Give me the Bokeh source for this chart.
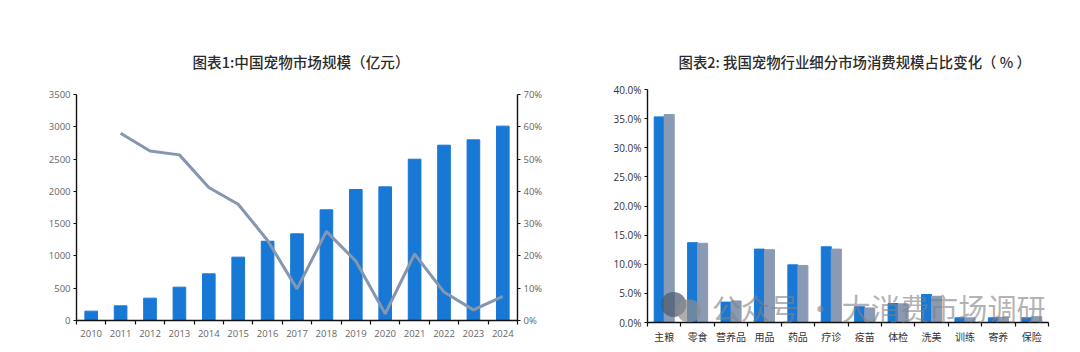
from bokeh.embed import file_html
from bokeh.resources import INLINE
from bokeh.layouts import row, column
from bokeh.models import (Range1d, LinearAxis, FixedTicker, NumeralTickFormatter, Label,
                          BoxAnnotation, ColumnDataSource, Title)
from bokeh.plotting import figure

years = ["2010", "2011", "2012", "2013", "2014", "2015", "2016", "2017", "2018", "2019", "2020", "2021", "2022", "2023", "2024"]
market = [145, 227, 346, 516, 723, 981, 1228, 1342, 1714, 2029, 2070, 2498, 2715, 2798, 3010]
growth = [None, 0.580, 0.525, 0.513, 0.412, 0.360, 0.248, 0.098, 0.276, 0.184, 0.021, 0.206, 0.088, 0.033, 0.075]
categories = ["主粮", "零食", "营养品", "用品", "药品", "疗诊", "疫苗", "体检", "洗美", "训练", "寄养", "保险"]
share_a = [0.353, 0.137, 0.035, 0.126, 0.099, 0.130, 0.027, 0.0325, 0.048, 0.008, 0.008, 0.008]
share_b = [0.357, 0.136, 0.037, 0.125, 0.098, 0.126, 0.025, 0.032, 0.045, 0.008, 0.009, 0.010]
title1 = "图表1:中国宠物市场规模（亿元）"
title2 = "图表2: 我国宠物行业细分市场消费规模占比变化（ % ）"
watermark = "公众号 · 大消费市场调研"

BLUE = "#1878d6"
GREY = "#8a9ab5"
LINE = "#8496b0"
LATIN = "Open Sans"
CJK = "Noto Sans CJK SC"
TITLE_FONT = "Noto Sans CJK SC Medium"


def style_axis(ax, color, font, size):
    ax.axis_line_color = "#111111"
    ax.axis_line_width = 1.4
    ax.major_tick_line_color = "#111111"
    ax.major_tick_line_width = 1.2
    ax.minor_tick_line_color = "#111111"
    ax.minor_tick_line_width = 1.2
    ax.major_tick_in = 0
    ax.major_tick_out = 3
    ax.minor_tick_in = 0
    ax.minor_tick_out = 0
    ax.major_label_text_color = color
    ax.major_label_text_font = font
    ax.major_label_text_font_size = size
    ax.major_label_standoff = 3


def make_fig(width, height, left, right, top, bottom, xr, yr):
    p = figure(width=width, height=height, x_range=xr, y_range=yr, toolbar_location=None,
               output_backend="svg", min_border_left=left, min_border_right=right,
               min_border_top=top, min_border_bottom=bottom, outline_line_color=None,
               background_fill_color="white", border_fill_color="white")
    p.grid.visible = False
    return p


def add_title(p, text, offset, size, spacer):
    t = p.title
    t.text = text
    t.align = "left"
    t.offset = offset
    t.text_font = TITLE_FONT
    t.text_font_size = size
    t.text_color = "#2b2b2b"
    t.text_font_style = "normal"
    p.add_layout(Title(text=" ", text_font_size=spacer), "above")


def cat_x_axis(p, labels, color, font, size, standoff):
    ax = p.xaxis[0]
    style_axis(ax, color, font, size)
    centers = [i + 0.5 for i in range(len(labels))]
    edges = list(range(len(labels) + 1))
    ax.ticker = FixedTicker(ticks=centers, minor_ticks=edges)
    ax.major_label_overrides = {c: t for c, t in zip(centers, labels)}
    ax.major_tick_out = 0
    ax.minor_tick_out = 4
    ax.major_label_standoff = standoff


# ---------- left chart ----------
xc1 = [i + 0.5 for i in range(len(years))]
p1 = make_fig(560, 344, 76, 43, 94, 24, Range1d(0, len(years)), Range1d(0, 3500))
p1.extra_y_ranges = {"g": Range1d(0, 0.7)}
src1 = ColumnDataSource(dict(x=xc1, market=market, growth=[float("nan") if g is None else g for g in growth]))
p1.vbar(x="x", top="market", width=0.43, color=BLUE, source=src1)
p1.line(x="x", y="growth", y_range_name="g", line_color=LINE, line_width=3, source=src1)
cat_x_axis(p1, years, "#666666", LATIN, "9.5px", 5)
style_axis(p1.yaxis[0], "#666666", LATIN, "9.5px")
p1.yaxis[0].ticker = FixedTicker(ticks=list(range(0, 3501, 500)))
right = LinearAxis(y_range_name="g", ticker=FixedTicker(ticks=[i / 10 for i in range(8)]),
                   formatter=NumeralTickFormatter(format="0%"))
style_axis(right, "#666666", LATIN, "9.5px")
p1.add_layout(right, "right")
add_title(p1, title1, 116, "14.6px", "5px")

# ---------- right chart ----------
xc2 = [i + 0.5 for i in range(len(categories))]
p2 = make_fig(512, 346, 87, 24, 89, 24, Range1d(0, len(categories)), Range1d(0, 0.4))
src2 = ColumnDataSource(dict(xa=[x - 0.15 for x in xc2], xb=[x + 0.15 for x in xc2], a=share_a, b=share_b))
p2.vbar(x="xa", top="a", width=0.3, color=BLUE, source=src2)
p2.vbar(x="xb", top="b", width=0.3, color=GREY, source=src2)
cat_x_axis(p2, categories, "#333333", CJK, "10px", 2)
style_axis(p2.yaxis[0], "#333333", LATIN, "10px")
p2.yaxis[0].ticker = FixedTicker(ticks=[i * 0.05 for i in range(9)])
p2.yaxis[0].formatter = NumeralTickFormatter(format="0.0%")
add_title(p2, title2, 31, "14.4px", "1px")

# watermark
p2.add_layout(BoxAnnotation(left=0.40, right=1.16, bottom=0.0095, top=0.0525, fill_color="#4a5a70",
                            fill_alpha=0.72, line_color=None, border_radius=13))
p2.add_layout(BoxAnnotation(left=0.88, right=1.60, bottom=0.0005, top=0.0395, fill_color="#8d8d8d",
                            fill_alpha=0.72, line_color=None, border_radius=12))
p2.add_layout(Label(x=1.92, y=-0.01, text=watermark, text_font=CJK, text_font_size="29.2px",
                    text_color="#808080", text_alpha=0.6, text_font_style="normal"))

open("out.html", "w").write(file_html(row(column(p1), column(p2), spacing=0), INLINE))
